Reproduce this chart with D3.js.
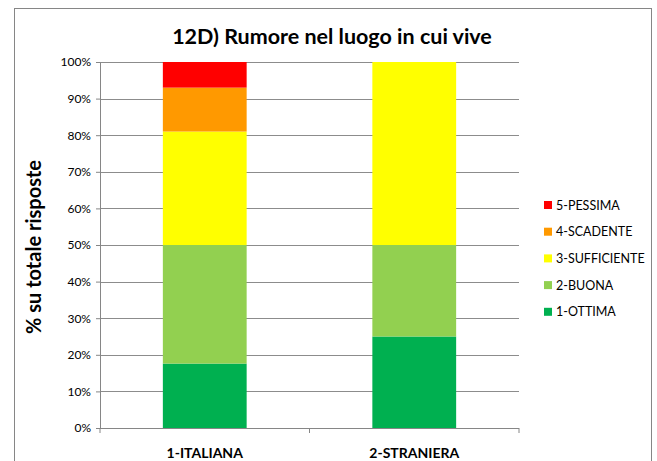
<!DOCTYPE html>
<html>
<head>
<meta charset="utf-8">
<script src="https://cdn.jsdelivr.net/npm/d3@7"></script>
<style>
  body { margin: 0; background: #fff; }
  text { font-family: Lato, "Open Sans", sans-serif; }
</style>
</head>
<body>
<div id="chart-area"></div>
<script>
// categories and series (percent of total answers)
const categories = ["1-ITALIANA", "2-STRANIERA"]
const seriesNames = ["1-OTTIMA", "2-BUONA", "3-SUFFICIENTE", "4-SCADENTE", "5-PESSIMA"]
const ottima = [17.6, 25]
const buona = [32.4, 25]
const sufficiente = [31, 50]
const scadente = [12, 0]
const pessima = [7, 0]
const yTicks = [0, 10, 20, 30, 40, 50, 60, 70, 80, 90, 100]
const colors = ["#00b050", "#92d050", "#ffff00", "#ff9900", "#ff0000"]

const W = 657, H = 461
const MARGIN = { LEFT: 100, RIGHT: 138, TOP: 62, BOTTOM: 33 }
const WIDTH = W - MARGIN.LEFT - MARGIN.RIGHT
const HEIGHT = H - MARGIN.TOP - MARGIN.BOTTOM

const rows = categories.map((c, i) => ({
  cat: c,
  "1-OTTIMA": ottima[i],
  "2-BUONA": buona[i],
  "3-SUFFICIENTE": sufficiente[i],
  "4-SCADENTE": scadente[i],
  "5-PESSIMA": pessima[i]
}))

const stack = d3.stack().keys(seriesNames)(rows)

const svg = d3.select("#chart-area").append("svg")
  .attr("width", W)
  .attr("height", H)

// outer chart border
svg.append("rect")
  .attr("x", 14.5).attr("y", 8.5)
  .attr("width", 637).attr("height", 470)
  .attr("fill", "none")
  .attr("stroke", "#868686")
  .attr("stroke-width", 1)

const g = svg.append("g")
  .attr("transform", `translate(${MARGIN.LEFT}, ${MARGIN.TOP})`)

const x = d3.scaleBand().domain(categories).range([0, WIDTH]).paddingInner(0.6).paddingOuter(0.3)
const y = d3.scaleLinear().domain([0, 100]).range([HEIGHT, 0])
const color = d3.scaleOrdinal().domain(seriesNames).range(colors)

// gridlines
g.append("g")
  .selectAll("line")
  .data(yTicks.slice(1))
  .join("line")
  .attr("x1", 0).attr("x2", WIDTH)
  .attr("y1", d => Math.round(y(d)) + 0.5)
  .attr("y2", d => Math.round(y(d)) + 0.5)
  .attr("stroke", "#8c8c8c")

// bars
g.append("g")
  .selectAll("g")
  .data(stack)
  .join("g")
  .attr("fill", d => color(d.key))
  .selectAll("rect")
  .data(d => d)
  .join("rect")
  .attr("x", d => x(d.data.cat))
  .attr("width", x.bandwidth())
  .attr("y", d => y(d[1]))
  .attr("height", d => y(d[0]) - y(d[1]))

// y axis
const yAxis = g.append("g")
  .call(d3.axisLeft(y).tickValues(yTicks).tickFormat(d => d + "%").tickSize(4).tickSizeOuter(0))
yAxis.select(".domain").attr("stroke", "#868686")
yAxis.selectAll(".tick line").attr("stroke", "#868686")
yAxis.selectAll(".tick text")
  .attr("font-size", 12)
  .attr("fill", "#000")
  .attr("x", -9)

// x axis
const xAxis = g.append("g")
  .attr("transform", `translate(0, ${HEIGHT})`)
xAxis.append("line")
  .attr("x1", 0).attr("x2", WIDTH)
  .attr("y1", 0.5).attr("y2", 0.5)
  .attr("stroke", "#868686")
const step = WIDTH / categories.length
xAxis.selectAll("line.tk")
  .data(d3.range(categories.length + 1))
  .join("line")
  .attr("class", "tk")
  .attr("x1", d => d * step).attr("x2", d => d * step)
  .attr("y1", 0).attr("y2", 5)
  .attr("stroke", "#868686")
xAxis.selectAll("text")
  .data(categories)
  .join("text")
  .attr("x", (d, i) => (i + 0.5) * step)
  .attr("y", 30)
  .attr("text-anchor", "middle")
  .attr("font-size", 14)
  .attr("font-weight", "bold")
  .text(d => d)

// title
svg.append("text")
  .attr("x", 332)
  .attr("y", 44)
  .attr("text-anchor", "middle")
  .attr("font-size", 21.5)
  .attr("font-weight", "bold")
  .text("12D) Rumore nel luogo in cui vive")

// y axis title
svg.append("text")
  .attr("transform", `translate(41, ${MARGIN.TOP + HEIGHT / 2 + 2}) rotate(-90)`)
  .attr("text-anchor", "middle")
  .attr("font-size", 20)
  .attr("font-weight", "bold")
  .text("% su totale risposte")

// legend (top item is the last series)
const legend = svg.append("g")
  .attr("transform", "translate(544, 205)")
const items = legend.selectAll("g")
  .data(seriesNames.slice().reverse())
  .join("g")
  .attr("transform", (d, i) => `translate(0, ${i * 26.7})`)
items.append("rect")
  .attr("x", 0).attr("y", -4)
  .attr("width", 8).attr("height", 8)
  .attr("fill", d => color(d))
items.append("text")
  .attr("x", 12)
  .attr("y", 4.5)
  .attr("font-size", 12.5)
  .text(d => d)
</script>
</body>
</html>
